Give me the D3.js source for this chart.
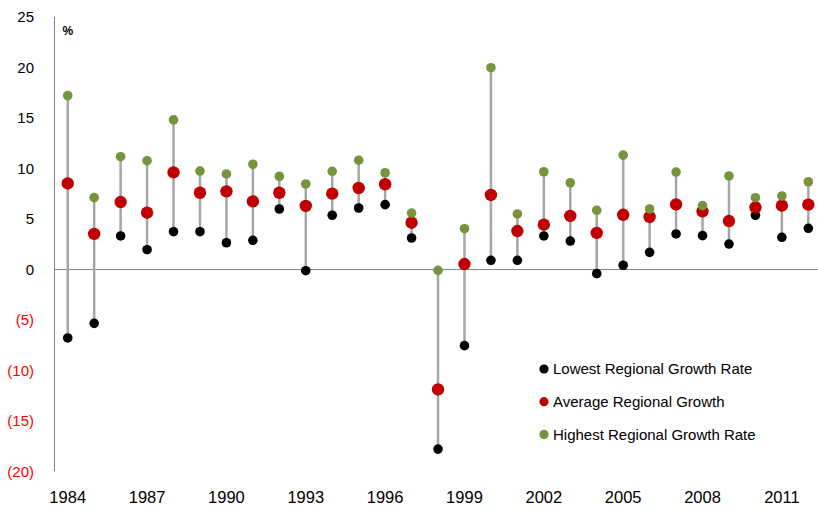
<!DOCTYPE html>
<html><head><meta charset="utf-8">
<script src="https://cdn.jsdelivr.net/npm/d3@7"></script>
<style>body{margin:0;background:#fff}svg{display:block}</style>
</head><body><svg id="c" width="818" height="509"></svg>
<script>
const years = d3.range(1984, 2013);
const lowest  = [-6.8,-5.35,3.3,1.94,3.72,3.72,2.63,2.87,5.97,-0.14,5.35,6.07,6.4,3.1,-17.8,-7.56,0.89,0.89,3.3,2.8,-0.43,0.4,1.68,3.5,3.33,2.5,5.35,3.17,4.06];
const average = [8.5,3.5,6.66,5.6,9.6,7.58,7.72,6.73,7.58,6.27,7.49,8.05,8.42,4.61,-11.9,0.52,7.36,3.79,4.42,5.28,3.6,5.4,5.18,6.43,5.74,4.78,6.14,6.3,6.4];
const highest = [17.2,7.1,11.15,10.75,14.8,9.73,9.44,10.4,9.2,8.45,9.7,10.8,9.56,5.57,-0.1,4.02,19.96,5.48,9.66,8.57,5.84,11.3,5.97,9.63,6.3,9.24,7.09,7.26,8.67];
const yTicks = [-20,-15,-10,-5,0,5,10,15,20,25];
const xTickYears = [1984,1987,1990,1993,1996,1999,2002,2005,2008,2011];
const seriesNames = ["Lowest Regional Growth Rate","Average Regional Growth","Highest Regional Growth Rate"];
const seriesColors = ["#000000","#c00000","#77933c"];

const svg = d3.select("#c");
const font = "'Liberation Sans', Arial, sans-serif";
const x = d3.scaleBand().domain(years).range([54.5, 54.5 + 29*26.45]);
const y = d3.scaleLinear().domain([-20, 25]).range([471.3, 16.8]);
const cx = d => x(d) + x.bandwidth()/2;

// axis y
svg.append("line").attr("x1",54.5).attr("x2",54.5).attr("y1",y(25)).attr("y2",y(-20))
  .attr("stroke","#868686").attr("stroke-width",1);
svg.append("line").attr("x1",54.5).attr("x2",818).attr("y1",Math.round(y(0))+0.5).attr("y2",Math.round(y(0))+0.5)
  .attr("stroke","#868686").attr("stroke-width",1);

svg.append("g").selectAll("text").data(yTicks).join("text")
  .attr("x",34).attr("y",d=>y(d)).attr("dy","0.36em").attr("text-anchor","end")
  .attr("font-family",font).attr("font-size",15)
  .attr("fill",d=>d<0?"#ff0000":"#000")
  .text(d=>d<0?"("+(-d)+")":d);

svg.append("g").selectAll("text").data(xTickYears).join("text")
  .attr("x",d=>cx(d)).attr("y",503).attr("text-anchor","middle")
  .attr("font-family",font).attr("font-size",16.5).attr("fill","#000")
  .text(d=>d);

svg.append("text").attr("x",62.5).attr("y",35).attr("font-family",font)
  .attr("font-size",12).attr("font-weight","bold").text("%");

// range lines
const rows = years.map((yr,i)=>({yr, lo:lowest[i], av:average[i], hi:highest[i]}));
svg.append("g").selectAll("line").data(rows).join("line")
  .attr("x1",d=>cx(d.yr)).attr("x2",d=>cx(d.yr))
  .attr("y1",d=>y(Math.min(d.lo,d.av,d.hi))).attr("y2",d=>y(Math.max(d.lo,d.av,d.hi)))
  .attr("stroke","#a6a6a6").attr("stroke-width",2.5);

const seriesVals = [lowest, average, highest];
const radii = [4.8, 6.2, 4.8];
seriesVals.forEach((vals, s) => {
  svg.append("g").selectAll("circle").data(vals).join("circle")
    .attr("cx",(d,i)=>cx(years[i])).attr("cy",d=>y(d)).attr("r",radii[s])
    .attr("fill",seriesColors[s]);
});

// legend
const lg = svg.append("g");
seriesNames.forEach((n,i)=>{
  const ly = 369 + i*32.7;
  lg.append("circle").attr("cx",544).attr("cy",ly).attr("r",4.6).attr("fill",seriesColors[i]);
  lg.append("text").attr("x",553).attr("y",ly).attr("dy","0.36em")
    .attr("font-family",font).attr("font-size",15).attr("fill","#000").text(n);
});
</script></body></html>
